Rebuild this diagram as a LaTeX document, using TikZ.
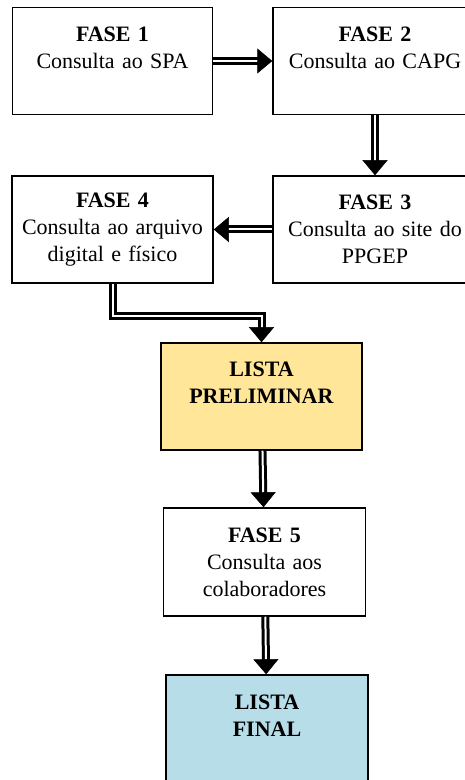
\documentclass[tikz,border=0pt]{standalone}
\usepackage{fontspec}
\setmainfont{Liberation Serif}
\usetikzlibrary{arrows.meta,decorations.markings}
\definecolor{prelimfill}{HTML}{FFE699}
\definecolor{finalfill}{HTML}{B7DDE8}
\begin{document}
\begin{tikzpicture}[x=1pt,y=1pt]
	\pgfmathsetmacro{\boxW}{202}
	\pgfmathsetmacro{\boxH}{107}
	\tikzstyle{phase}=[draw, line width=1.5pt, fill=white, minimum width=\boxW pt, minimum height=\boxH pt, text width=196pt, align=center, inner sep=0pt, font=\fontsize{22}{27}\selectfont]
	\tikzstyle{link}=[double, line width=3pt, double distance=2pt, shorten >=13pt, postaction={decorate}, decoration={markings, mark=at position 1 with {\arrow[line width=0.5pt]{Triangle[width=25pt,length=15pt]}}}]

	\useasboundingbox (0,0) rectangle (465,780);

	\node[phase, minimum width=200pt] (F1) at (112.5, 719)	{\textbf{FASE 1}\\Consulta ao SPA\\~};
	\node[phase, minimum width=204pt] (F2) at (375, 719)	{\textbf{FASE 2}\\Consulta ao CAPG\\~};
	\node[phase, minimum width=204pt] (F3) at (375, 550.5)	{\textbf{FASE 3}\\Consulta ao site do\\PPGEP};
	\node[phase, minimum width=201pt] (F4) at (112.5, 550.5)	{\textbf{FASE 4}\\Consulta ao arquivo\\digital e físico};

	\node[phase, fill=prelimfill, minimum width=201pt] (LP) at (261.5, 383.5)	{\textbf{LISTA}\\\textbf{PRELIMINAR}\\~};
	\node[phase, minimum height=108pt] (F5) at (264.5, 218)	{\textbf{FASE 5}\\Consulta aos\\colaboradores};
	\node[phase, fill=finalfill, minimum height=108pt] (LF) at (267, 51)	{\textbf{LISTA}\\\textbf{FINAL}\\~};

	\draw[link] (F1) -- (F2);
	\draw[link] (F2) -- (F3);
	\draw[link] (F3) -- (F4);
	\draw[link] (F4.south) -- ++(0,-32) -| (LP.north);
	\draw[link] (LP) -- (F5);
	\draw[link] (F5) -- (LF);
\end{tikzpicture}
\end{document}
